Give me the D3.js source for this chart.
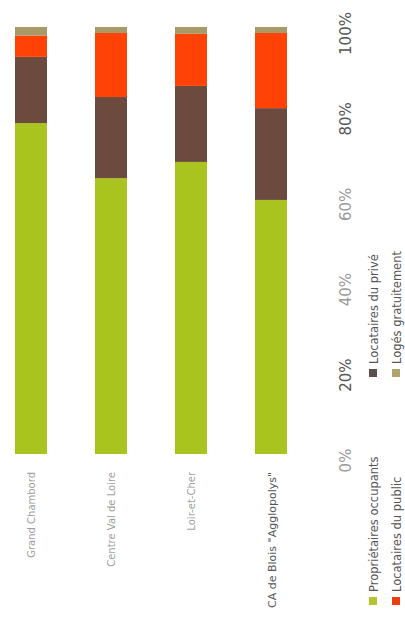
<!DOCTYPE html>
<html>
<head>
<meta charset="utf-8">
<script src="https://cdn.jsdelivr.net/npm/d3@7"></script>
<style>
  html, body { margin: 0; padding: 0; background: #fff; }
  svg { display: block; }
  text { font-family: "DejaVu Sans", sans-serif; }
</style>
</head>
<body>
<svg id="chart" width="405" height="625"></svg>
<script>
// Statut d'occupation des résidences principales (% des ménages)
const categories = ["Grand Chambord", "Centre Val de Loire", "Loir-et-Cher", "CA de Blois \"Agglopolys\""];
const proprietaires = [77.5, 64.6, 68.4, 59.5];
const locatairesPrive = [15.5, 19.0, 17.8, 21.5];
const locatairesPublic = [5.0, 15.0, 12.2, 17.6];
const logesGratuitement = [2.0, 1.4, 1.6, 1.4];
const tickValues = [0, 20, 40, 60, 80, 100];
const tickLabels = ["0%", "20%", "40%", "60%", "80%", "100%"];

const seriesNames = ["Propriétaires occupants", "Locataires du privé", "Locataires du public", "Logés gratuitement"];
const seriesKeys = ["prop", "prive", "public", "gratuit"];
const colors = ["#a9c31f", "#6c4a3e", "#ff4206", "#a89a68"];
const legendColors = ["#b4c42c", "#5b504b", "#ee3d0c", "#b0a36b"];

const rows = categories.map((c, i) => ({
  cat: c,
  prop: proprietaires[i],
  prive: locatairesPrive[i],
  public: locatairesPublic[i],
  gratuit: logesGratuitement[i]
}));

const svg = d3.select("#chart");

const x = d3.scaleBand().domain(categories).range([-9, 311]).paddingInner(0.6).paddingOuter(0.3);
const y = d3.scaleLinear().domain([0, 100]).range([454, 27]);

const layers = d3.stack().keys(seriesKeys)(rows);

// Stacked bars
svg.append("g").selectAll("g")
  .data(layers)
  .join("g")
  .attr("fill", (d, i) => colors[i])
  .selectAll("rect")
  .data(d => d)
  .join("rect")
  .attr("x", d => x(d.data.cat))
  .attr("width", x.bandwidth())
  .attr("y", d => y(d[1]))
  .attr("height", d => y(d[0]) - y(d[1]));

// Category labels, read bottom to top under each bar
svg.append("g").selectAll("text")
  .data(categories)
  .join("text")
  .attr("transform", (d, i) => `translate(${x(d) + x.bandwidth() / 2 + (i === 3 ? 5 : 4)},472) rotate(-90)`)
  .attr("text-anchor", "end")
  .attr("font-size", (d, i) => i === 3 ? 11 : 10)
  .attr("fill", (d, i) => i === 3 ? "#555" : "#a0a0a0")
  .text(d => d);

// Percentage axis on the right
const axis = d3.axisRight(y)
  .tickValues(tickValues)
  .tickFormat((d, i) => tickLabels[i])
  .tickSize(0);
const axisG = svg.append("g").call(axis);
axisG.select(".domain").remove();
axisG.selectAll(".tick text")
  .attr("x", 0).attr("dy", 0)
  .attr("transform", "translate(351,6) rotate(-90)")
  .attr("text-anchor", "middle")
  .attr("font-family", "'DejaVu Sans', sans-serif")
  .attr("font-size", 15)
  .attr("fill", d => (d === 0 || d === 40 || d === 60) ? "#9a9a9a" : "#555");

// Legend
const legendPos = [
  { bx: 378, start: 592 },
  { bx: 378, start: 364 },
  { bx: 401, start: 592 },
  { bx: 401, start: 364 }
];
const legend = svg.append("g").selectAll("g")
  .data(seriesNames)
  .join("g");
legend.append("rect")
  .attr("x", (d, i) => legendPos[i].bx - 9)
  .attr("y", (d, i) => legendPos[i].start + 5)
  .attr("width", 8)
  .attr("height", 8)
  .attr("fill", (d, i) => legendColors[i]);
legend.append("text")
  .attr("transform", (d, i) => `translate(${legendPos[i].bx},${legendPos[i].start}) rotate(-90)`)
  .attr("text-anchor", "start")
  .attr("font-size", 11.5)
  .attr("fill", "#555")
  .text(d => d);
</script>
</body>
</html>
